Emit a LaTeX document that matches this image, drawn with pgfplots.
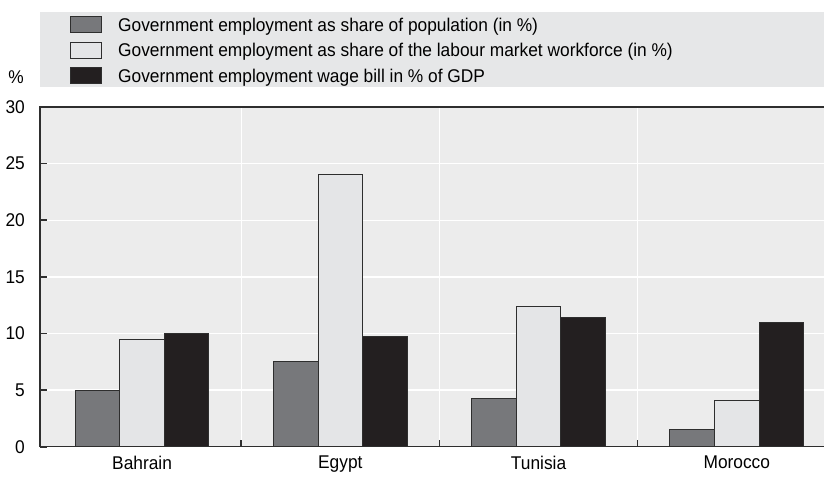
\documentclass[border=0pt]{standalone}
\usepackage{fontspec}
\setmainfont{Liberation Sans}[FakeStretch=0.94]
\usepackage{pgfplots}
\pgfplotsset{compat=1.18}

\definecolor{plotbg}{HTML}{ECECEC}
\definecolor{legbg}{HTML}{E6E7E8}
\definecolor{barmid}{HTML}{77787B}
\definecolor{barlight}{HTML}{E4E5E7}
\definecolor{bardark}{HTML}{231F20}
\definecolor{edge}{HTML}{2E2E2E}

\begin{document}
\fontsize{18.5}{22}\selectfont
\begin{tikzpicture}
% legend background band (axis box: 784 x 339.7, lower left at origin)
\fill[legbg] (0,359.7bp) rectangle (784bp,434.7bp);
\node[anchor=base east, inner sep=0pt] at (-16bp,363.4bp) {\%};

\begin{axis}[
  width=784bp, height=339.7bp, scale only axis,
  xmin=-0.515, xmax=3.44,
  ymin=0, ymax=30,
  ytick={0,5,...,30},
  xtick={0.5,1.5,2.5}, xticklabels={},
  xmajorgrids, ymajorgrids,
  grid style={white, line width=1.3bp},
  extra x ticks={0,1,2,3},
  extra x tick labels={Bahrain,Egypt,Tunisia,Morocco},
  extra x tick style={xmajorgrids=false, major tick length=0pt},
  axis line style={draw=none},
  tick pos=left,
  major tick length=7bp,
  tick style={edge, line width=1.6bp},
  axis background/.style={fill=plotbg},
  /pgf/number format/assume math mode=true,
  yticklabel style={inner sep=0pt, xshift=-15bp},
  xticklabel style={inner sep=0pt, yshift=-9bp},
  ybar=0pt, bar width=0.225,
  legend style={at={(rel axis cs:0,1)}, anchor=south west,
    xshift=30bp, yshift=21.5bp, draw=none, fill=none, inner sep=0pt,
    row sep=7.5bp, column sep=16bp,
    nodes={inner sep=0pt, text height=13bp, text depth=3bp}},
  legend cell align=left,
  legend image code/.code={\draw[#1, line width=1bp] (0bp,-6.5bp) rectangle (31bp,9.5bp);},
  tick align=inside,
]
\addplot[fill=barmid, draw=edge, line width=1bp]
  coordinates {(0,5.0) (1,7.5) (2,4.3) (3,1.5)};
\addlegendentry{Government employment as share of population (in \%)}
\addplot[fill=barlight, draw=edge, line width=1bp]
  coordinates {(0,9.5) (1,24.0) (2,12.35) (3,4.1)};
\addlegendentry{Government employment as share of the labour market workforce (in \%)}
\addplot[fill=bardark, draw=edge, line width=1bp]
  coordinates {(0,10.0) (1,9.7) (2,11.45) (3,11.0)};
\addlegendentry{Government employment wage bill in \% of GDP}
\end{axis}
\draw[edge, line width=1.2bp] (784bp,339.7bp) -- (0,339.7bp) -- (0,0) -- (784bp,0);

\pgfresetboundingbox
\path (-40bp,-32.3bp) rectangle (784bp,446.7bp);
\end{tikzpicture}
\end{document}
